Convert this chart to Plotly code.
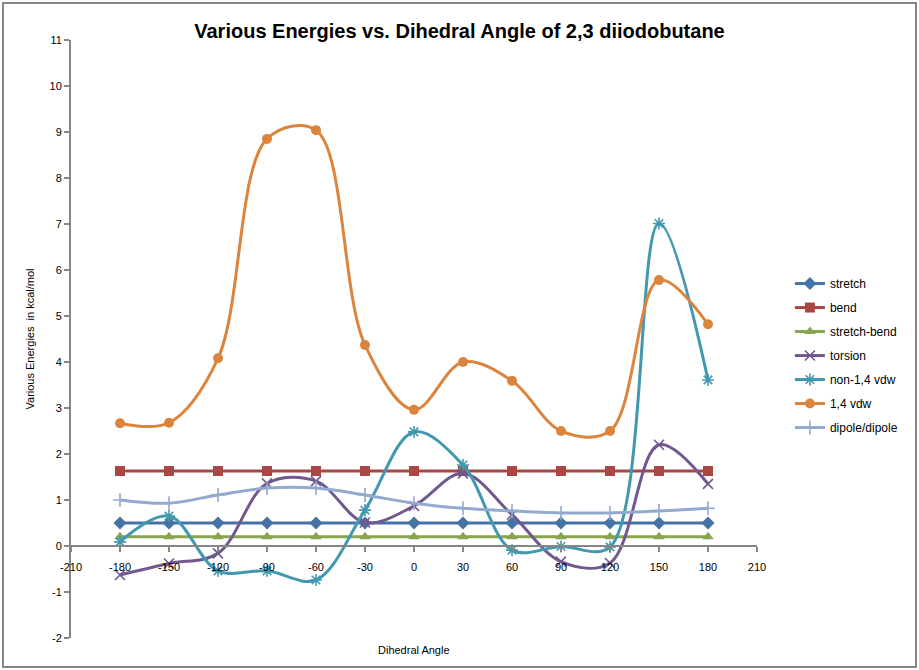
import plotly.graph_objects as go

angles = [-180, -150, -120, -90, -60, -30, 0, 30, 60, 90, 120, 150, 180]

stretch = [0.5] * 13
bend = [1.63] * 13
stretch_bend = [0.2] * 13
torsion = [-0.63, -0.38, -0.16, 1.36, 1.41, 0.51, 0.87, 1.58, 0.68, -0.34, -0.37, 2.2, 1.35]
non14_vdw = [0.09, 0.65, -0.54, -0.54, -0.74, 0.78, 2.48, 1.76, -0.09, -0.01, -0.02, 7.01, 3.61]
vdw14 = [2.67, 2.68, 4.08, 8.85, 9.04, 4.37, 2.96, 4.0, 3.59, 2.5, 2.5, 5.78, 4.82]
dipole = [1.0, 0.93, 1.11, 1.26, 1.26, 1.11, 0.93, 0.82, 0.76, 0.72, 0.72, 0.76, 0.82]

series = [
    ("stretch", stretch, "#4572A7", "diamond"),
    ("bend", bend, "#AA4643", "square"),
    ("stretch-bend", stretch_bend, "#89A54E", "triangle-up"),
    ("torsion", torsion, "#71588F", "x-thin-open"),
    ("non-1,4 vdw", non14_vdw, "#4198AF", "asterisk-open"),
    ("1,4 vdw", vdw14, "#DB843D", "circle"),
    ("dipole/dipole", dipole, "#93A9CF", "cross-thin-open"),
]

x_ticks = list(range(-210, 211, 30))
y_ticks = list(range(-2, 12))

fig = go.Figure()
for i, (name, vals, color, sym) in enumerate(series):
    open_sym = sym.endswith("-open")
    fig.add_trace(go.Scatter(
        x=angles, y=vals, name=name, mode="lines+markers",
        line=dict(color=color, width=3, shape="spline", smoothing=1),
        marker=dict(symbol=sym, size=10, color=color,
                    line=dict(color=color, width=1.6 if open_sym else 0)),
        legendgroup=f"g{i}",
    ))

axis_gray = "#868686"
fig.update_layout(
    width=919, height=670,
    paper_bgcolor="white", plot_bgcolor="white",
    margin=dict(l=71, r=162, t=40, b=32),
    font=dict(family="Liberation Sans, Arial, sans-serif", size=11, color="black"),
    title=dict(text="<b>Various Energies vs. Dihedral Angle of 2,3 diiodobutane</b>",
               x=0.5, xanchor="center", y=1 - 31 / 670, yanchor="middle",
               font=dict(size=20, family="Liberation Sans, Arial, sans-serif", color="black")),
    xaxis=dict(range=[-210, 210], tickvals=x_ticks, ticktext=[str(v) for v in x_ticks],
               showgrid=False, zeroline=False, showline=True, linecolor=axis_gray, linewidth=2,
               ticks="outside", ticklen=5, tickcolor=axis_gray, tickwidth=2,
               anchor="free", position=2 / 13, ticklabelstandoff=6,
               tickfont=dict(size=11)),
    yaxis=dict(range=[-2, 11], tickvals=y_ticks, ticktext=[str(v) for v in y_ticks],
               showgrid=False, zeroline=False, showline=True, linecolor=axis_gray, linewidth=2,
               ticks="outside", ticklen=5, tickcolor=axis_gray, tickwidth=2,
               tickfont=dict(size=11),
               title=dict(text="Various Energies  in kcal/mol", font=dict(size=11), standoff=13)),
    legend=dict(x=1.048, xanchor="left", y=0.617, yanchor="top",
                font=dict(size=12), tracegroupgap=5, bgcolor="rgba(0,0,0,0)"),
    showlegend=True,
)

fig.add_annotation(text="Dihedral Angle", xref="paper", yref="paper", x=0.5, y=-0.02,
                   xanchor="center", yanchor="middle", showarrow=False, font=dict(size=11))

fig.add_shape(type="rect", xref="paper", yref="paper",
              x0=(3 - 71) / 686, x1=(916 - 71) / 686,
              y0=(638 - 667) / 598, y1=(638 - 3) / 598,
              line=dict(color=axis_gray, width=2), fillcolor="rgba(0,0,0,0)", layer="below")

fig.write_html("out.html", config={"displayModeBar": False},
               post_script="document.body.style.margin='0';document.body.style.overflow='hidden';")
